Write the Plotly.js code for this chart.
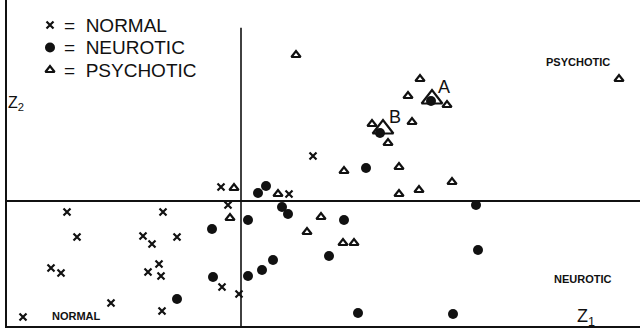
<!DOCTYPE html>
<html>
<head>
<meta charset="utf-8">
<script src="https://cdn.plot.ly/plotly-3.0.1.min.js"></script>
<style>html,body{margin:0;padding:0;background:#fff;}#chart{width:640px;height:330px;}</style>
</head>
<body>
<div id="chart"></div>
<script>
// Discriminant scores (Z1, Z2)
const normalZ1 = [-8.7, -3.9, -8.2, -4.9, -4.45, -3.2, -9.5, -9.0, -4.65, -4.1, -4.0, -6.5, -10.9, -3.95, -1.0, -0.65, -0.95, -0.1, 2.4, 3.6];
const normalZ2 = [-0.55, -0.55, -1.8, -1.75, -2.15, -1.8, -3.35, -3.6, -3.55, -3.15, -3.75, -5.1, -5.8, -5.5, 0.7, -0.2, -4.3, -4.65, 0.35, 2.25];

const neuroticZ1 = [-1.45, -1.4, -3.2, 1.25, 0.85, 0.35, 2.05, 2.35, 5.15, 6.25, 4.4, 1.6, 1.05, 0.35, 5.85, 11.75, 11.85, 10.6];
const neuroticZ2 = [-1.4, -3.8, -4.9, 0.75, 0.4, -0.95, -0.3, -0.65, -0.95, 1.65, -2.75, -2.95, -3.45, -3.75, -5.6, -0.2, -2.45, -5.65];

const psychoticZ1 = [-0.35, -0.55, 1.85, 4.0, 3.3, 5.1, 5.65, 5.15, 7.9, 7.9, 8.9, 10.55, 2.75, 8.95, 8.35, 10.3, 8.55, 6.55, 7.35, 18.9];
const psychoticZ2 = [0.65, -0.85, 0.35, -0.8, -1.55, -2.1, -2.1, 1.5, 1.7, 0.35, 0.55, 0.95, 7.3, 6.1, 5.25, 4.8, 3.95, 3.85, 2.9, 6.1];

// Marked cases A and B (large triangle with a filled circle inside)
const markedLabels = ['A', 'B'];
const markedTriZ1 = [9.55, 7.1];
const markedTriZ2 = [5.1, 3.6];
const markedDotZ1 = [9.5, 6.95];
const markedDotZ2 = [5.0, 3.4];

// Region labels
const regionLabels = ['PSYCHOTIC', 'NEUROTIC', 'NORMAL'];
const regionZ1 = [16.85, 17.1, -8.25];
const regionZ2 = [6.95, -3.9, -5.75];

const legendNames = ['NORMAL', 'NEUROTIC', 'PSYCHOTIC'];

const FONT = 'Liberation Sans, Arial, Helvetica, sans-serif';

const styles = [
  {symbol: 'x-thin-open', size: 7, color: '#111', line: {width: 2.2, color: '#111'}},
  {symbol: 'circle', size: 10, color: '#111', line: {width: 0}},
  {symbol: 'triangle-up-open', size: 8, color: '#111', line: {width: 2.2, color: '#111'}}
];

const traces = [
  {type: 'scatter', mode: 'markers', x: normalZ1, y: normalZ2, name: legendNames[0], marker: styles[0]},
  {type: 'scatter', mode: 'markers', x: neuroticZ1, y: neuroticZ2, name: legendNames[1], marker: styles[1]},
  {type: 'scatter', mode: 'markers', x: psychoticZ1, y: psychoticZ2, name: legendNames[2], marker: styles[2]},
  {type: 'scatter', mode: 'markers', x: markedTriZ1, y: markedTriZ2,
   marker: {symbol: 'triangle-up-open', size: 18, color: '#111', line: {width: 2.2, color: '#111'}}},
  {type: 'scatter', mode: 'markers', x: markedDotZ1, y: markedDotZ2,
   marker: {symbol: 'circle', size: 10, color: '#111', line: {width: 0}}}
];

// Hand-drawn style key in the upper-left corner (pixel-like overlay axes)
const keyX = 43, keyTextX = 55, keyY0 = 301, keyStep = 22.5;
legendNames.forEach((n, i) => {
  traces.push({type: 'scatter', mode: 'markers', xaxis: 'x2', yaxis: 'y2',
    x: [keyX], y: [keyY0 - i * keyStep], marker: styles[i], hoverinfo: 'skip'});
});

const annotations = [];
legendNames.forEach((n, i) => annotations.push({
  x: keyTextX, y: keyY0 - i * keyStep, xref: 'x2', yref: 'y2', xanchor: 'left', yanchor: 'middle',
  text: '=\u00a0 ' + n, showarrow: false, font: {family: FONT, size: 19, color: '#111'}
}));
markedLabels.forEach((t, i) => annotations.push({
  x: markedTriZ1[i], y: markedTriZ2[i], xref: 'x', yref: 'y', text: t, showarrow: false,
  xshift: 12, yshift: 12, font: {family: FONT, size: 18, color: '#111'}
}));
regionLabels.forEach((t, i) => annotations.push({
  x: regionZ1[i], y: regionZ2[i], xref: 'x', yref: 'y', text: '<b>' + t + '</b>', showarrow: false,
  font: {family: FONT, size: 11, color: '#111'}
}));
annotations.push({x: 17.25, y: -5.8, xref: 'x', yref: 'y', text: 'Z<sub>1</sub>', showarrow: false,
  font: {family: FONT, size: 18, color: '#111'}});
annotations.push({x: -11.25, y: 4.9, xref: 'x', yref: 'y', text: 'Z<sub>2</sub>', showarrow: false,
  font: {family: FONT, size: 16, color: '#111'}});

const layout = {
  width: 640, height: 330,
  margin: {l: 7, r: 0, t: 0, b: 4},
  paper_bgcolor: '#fff', plot_bgcolor: '#fff',
  showlegend: false,
  xaxis: {range: [-11.7, 19.95], showgrid: false, showticklabels: false, ticks: '',
          zeroline: false, showline: true, linewidth: 2, linecolor: '#111', fixedrange: true},
  yaxis: {range: [-6.25, 10.05], showgrid: false, showticklabels: false, ticks: '',
          zeroline: true, zerolinewidth: 1.6, zerolinecolor: '#111',
          showline: true, linewidth: 2, linecolor: '#111', fixedrange: true},
  xaxis2: {overlaying: 'x', range: [0, 633], visible: false, fixedrange: true},
  yaxis2: {overlaying: 'y', range: [0, 326], visible: false, fixedrange: true},
  shapes: [
    {type: 'line', xref: 'x', yref: 'paper', x0: 0, x1: 0, y0: 0, y1: 0.915,
     line: {color: '#111', width: 1.6}}
  ],
  annotations: annotations
};

Plotly.newPlot('chart', traces, layout, {staticPlot: true, displayModeBar: false});
</script>
</body>
</html>
